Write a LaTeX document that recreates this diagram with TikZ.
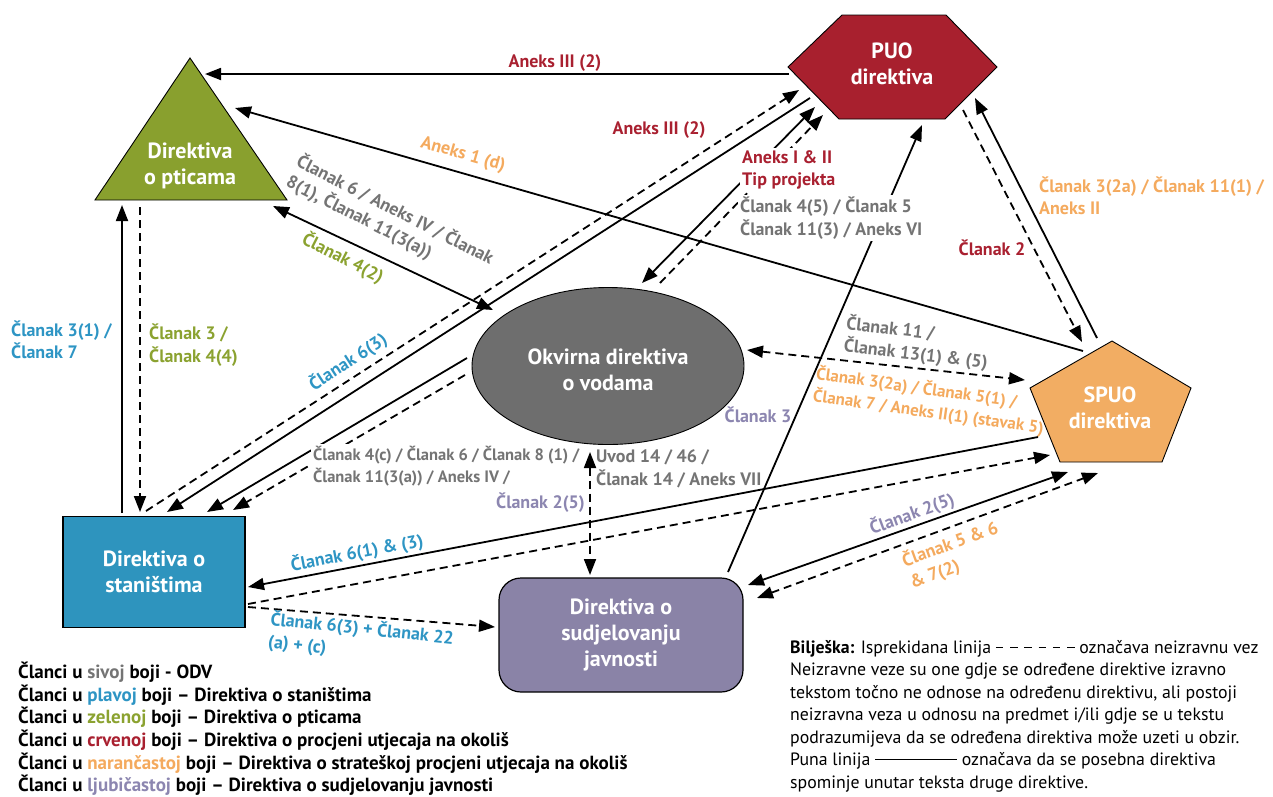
\documentclass[tikz,border=0pt]{standalone}
\usepackage{fontspec}
\setmainfont{PT Sans}
\usetikzlibrary{arrows.meta,shapes.geometric}

% text colours
\definecolor{txgrey}{HTML}{747474}
\definecolor{txblue}{HTML}{2E95C4}
\definecolor{txgreen}{HTML}{8BA230}
\definecolor{txred}{HTML}{A92030}
\definecolor{txorange}{HTML}{F4AA5E}
\definecolor{txpurple}{HTML}{8C86B0}
% shape fills
\definecolor{fbirds}{HTML}{89A02E}
\definecolor{fpuo}{HTML}{A8202E}
\definecolor{fspuo}{HTML}{F2AD63}
\definecolor{fwfd}{HTML}{6E6E6E}
\definecolor{fhab}{HTML}{2E94BE}
\definecolor{fpub}{HTML}{8A83A7}

\newcommand{\onedash}{\rule[0.3em]{0.42em}{1.3pt}}
\newcommand{\dashsample}{\mbox{\onedash\hspace{0.38em}\onedash\hspace{0.38em}\onedash\hspace{0.38em}\onedash\hspace{0.38em}\onedash\hspace{0.38em}\onedash}}
\newcommand{\solidsample}{\mbox{\rule[0.3em]{4.6em}{1pt}}}

\tikzset{
  shapetxt/.style={font=\bfseries\fontsize{22}{26}\selectfont, text=white, align=center},
  lbl/.style={font=\bfseries\fontsize{18}{22.5}\selectfont, inner sep=1pt},
  lblsm/.style={font=\bfseries\fontsize{17}{22.5}\selectfont},
  lblxs/.style={font=\bfseries\fontsize{16.5}{22.5}\selectfont},
  lblw/.style={lbl, fill=white, inner sep=2pt},
  solidln/.style={line width=1.8pt},
  dashln/.style={line width=1.8pt, dash pattern=on 8pt off 5pt},
  outline/.style={draw=black, line width=0.9pt},
}

\begin{document}
\begin{tikzpicture}[x=1pt, y=-1pt, >={Triangle[length=16pt,width=12pt]}]
\useasboundingbox (0,0) rectangle (1273,796);

% ---------- directive shapes ----------
\filldraw[fill=fbirds, outline] (190,58) -- (287,200) -- (95,200) -- cycle;
\filldraw[fill=fpuo, outline] (788,67) -- (842,15) -- (946,15) -- (997,67) -- (945,119) -- (839,119) -- cycle;
\filldraw[fill=fspuo, outline] (1112,341) -- (1191,388) -- (1162,462) -- (1060,462) -- (1030,388) -- cycle;

\node[shapetxt] (birds) at (190,166) {Direktiva\\o pticama};
\node[shapetxt] (puo) at (892,64) {PUO\\direktiva};
\node[shapetxt] (spuo) at (1110,408) {SPUO\\direktiva};
\node[ellipse, fill=fwfd, outline, minimum width=272pt, minimum height=157pt, inner sep=0pt] (wfd) at (608,366) {};
\node[shapetxt] (wfdtext) at (608,370) {Okvirna direktiva\\o vodama};
\node[shapetxt, rectangle, fill=fhab, outline, line width=1.2pt, minimum width=182pt, minimum height=111pt, inner sep=0pt] (hab) at (154,572) {Direktiva o\\staništima};
\node[shapetxt, rectangle, rounded corners=22pt, fill=fpub, outline, line width=1.2pt, minimum width=244pt, minimum height=114pt, inner sep=0pt] (pub) at (621,635) {Direktiva o\\sudjelovanju\\javnosti};

% ---------- connectors ----------
% towards the birds directive
\draw[solidln,->] ([shift={(-103,10)}]puo.center) -- ([shift={(15,-92)}]birds.center);
\draw[solidln,->] ([shift={(-27,-57)}]spuo.center) -- ([shift={(45,-58)}]birds.center);
\draw[solidln,<->] ([shift={(-115,-56)}]wfd.center) -- ([shift={(83,40)}]birds.center);
\draw[dashln,->] ([shift={(-50,41)}]birds.center) -- ([shift={(-14,-60)}]hab.center);
\draw[solidln,->] ([shift={(-32,-59)}]hab.center) -- ([shift={(-68,39)}]birds.center);
% habitats and the EIA directive
\draw[solidln,->] ([shift={(-82,34)}]puo.center) -- ([shift={(13,-60)}]hab.center);
\draw[dashln,->] ([shift={(-8,-61)}]hab.center) -- ([shift={(-93,26)}]puo.center);
% water framework directive and habitats
\draw[solidln,->] ([shift={(-141,-8)}]wfd.center) -- ([shift={(53,-60)}]hab.center);
\draw[dashln,->] ([shift={(-143,9)}]wfd.center) -- ([shift={(79,-62)}]hab.center);
% water framework directive and EIA
\draw[solidln,<->] ([shift={(34,-83)}]wfd.center) -- ([shift={(-77,43)}]puo.center);
\draw[dashln,->] ([shift={(52,-83)}]wfd.center) -- ([shift={(-69,51)}]puo.center);
% public participation and EIA
\draw[solidln,->] ([shift={(107,-63)}]pub.center) -- ([shift={(30,61)}]puo.center);
% EIA and SEA
\draw[dashln,->] ([shift={(71,46)}]puo.center) -- ([shift={(-28,-66)}]spuo.center);
\draw[solidln,->] ([shift={(-13,-70)}]spuo.center) -- ([shift={(83,34)}]puo.center);
% water framework directive and SEA
\draw[dashln,<->] ([shift={(139,-16)}]wfd.center) -- ([shift={(-85,-28)}]spuo.center);
% habitats and SEA
\draw[solidln,->] ([shift={(-72,29)}]spuo.center) -- ([shift={(94,15)}]hab.center);
\draw[dashln,->] ([shift={(94,32)}]hab.center) -- ([shift={(-60,47)}]spuo.center);
% habitats and public participation
\draw[dashln,->] ([shift={(94,35)}]hab.center) -- ([shift={(-126,-8)}]pub.center);
% public participation and SEA
\draw[solidln,<->] ([shift={(127,-50)}]pub.center) -- ([shift={(-42,64)}]spuo.center);
\draw[dashln,<->] ([shift={(136,-37)}]pub.center) -- ([shift={(-12,65)}]spuo.center);

% ---------- article labels ----------
\node[lbl, text=txred] (l1) at (555,63) {Aneks III (2)};
\node[lbl, text=txred] (l2) at (659,130) {Aneks III (2)};
\node[lbl, text=txorange, rotate=-16] (l3) at (463,155) {Aneks 1 (d)};
\node[lbl, text=txgrey, rotate=-27, align=left] (l4) at (390,220) {Članak 6 / Aneks IV / Članak\\8(1), Članak 11(3(a))};
\node[lbl, text=txgreen, rotate=-27] (l5) at (343,258) {Članak 4(2)};
\node[lbl, text=txblue, align=left, anchor=west] (l6) at (10,340) {Članak 3(1) /\\Članak 7};
\node[lbl, text=txgreen, align=left, anchor=west] (l7) at (148,345) {Članak 3 /\\Članak 4(4)};
\node[lbl, text=txblue, rotate=33] (l8) at (348,362) {Članak 6(3)};
\node[lblw, lblxs, text=txgrey, align=left, anchor=west] (l9) at (311,466) {Članak 4(c) / Članak 6 / Članak 8 (1) /\\Članak 11(3(a)) / Aneks IV /};
\node[lbl, text=txpurple, anchor=east] (l10) at (586,503) {Članak 2(5)};
\node[lbl, text=txgrey, align=left, anchor=west] (l11) at (595,469) {Uvod 14 / 46 /\\Članak 14 / Aneks VII};
\node[lbl, text=txpurple] (l12) at (758,415) {Članak 3};
\node[lblw, text=txred, align=left, anchor=west] (l13) at (740,170) {Aneks I \& II\\Tip projekta};
\node[lblw, text=txgrey, align=left, anchor=west] (l14) at (738,218) {Članak 4(5) / Članak 5\\Članak 11(3) / Aneks VI};
\node[lbl, text=txgrey, rotate=-6.5, align=left] (l15) at (917,343) {Članak 11 /\\Članak 13(1) \& (5)};
\node[lbl, lblsm, text=txorange, rotate=-8, align=left] (l16) at (930,401) {Članak 3(2a) / Članak 5(1) /\\Članak 7 / Aneks II(1) (stavak 5)};
\node[lbl, text=txblue, rotate=10.8] (l17) at (357,553) {Članak 6(1) \& (3)};
\node[lbl, text=txblue, rotate=-6, align=left] (l18) at (361,640) {Članak 6(3) + Članak 22\\(a) + (c)};
\node[lbl, text=txpurple, rotate=20] (l19) at (912,514) {Članak 2(5)};
\node[lbl, text=txorange, rotate=20, align=left] (l20) at (954,555) {Članak 5 \& 6\\\& 7(2)};
\node[lbl, text=txorange, align=left, anchor=west] (l21) at (1038,196) {Članak 3(2a) / Članak 11(1) /\\Aneks II};
\node[lbl, text=txred] (l22) at (992,248) {Članak 2};

% water framework directive and public participation (drawn over the label boxes)
\draw[dashln,<->] ([shift={(-18,86)}]wfd.center) -- ([shift={(-31,-60)}]pub.center);

% ---------- colour key ----------
\node[font=\bfseries\fontsize{19}{22.6}\selectfont, align=left, anchor=north west, inner sep=0pt] (key) at (18,662) {%
Članci u {\color{txgrey}sivoj} boji - ODV\\
Članci u {\color{txblue}plavoj} boji – Direktiva o staništima\\
Članci u {\color{txgreen}zelenoj} boji – Direktiva o pticama\\
Članci u {\color{txred}crvenoj} boji – Direktiva o procjeni utjecaja na okoliš\\
Članci u {\color{txorange}narančastoj} boji – Direktiva o strateškoj procjeni utjecaja na okoliš\\
Članci u {\color{txpurple}ljubičastoj} boji – Direktiva o sudjelovanju javnosti};

% ---------- note ----------
\begin{scope}
\clip (0,0) rectangle (1273,796);
\node[font=\fontsize{17.8}{22.5}\selectfont, align=left, anchor=north west, inner sep=0pt] (note) at (790,640) {%
\textbf{Bilješka:} Isprekidana linija \dashsample{} označava neizravnu vez\\
Neizravne veze su one gdje se određene direktive izravno\\
tekstom točno ne odnose na određenu direktivu, ali postoji\\
neizravna veza u odnosu na predmet i/ili gdje se u tekstu\\
podrazumijeva da se određena direktiva može uzeti u obzir.\\
Puna linija \solidsample{} označava da se posebna direktiva\\
spominje unutar teksta druge direktive.};
\end{scope}
\end{tikzpicture}
\end{document}
